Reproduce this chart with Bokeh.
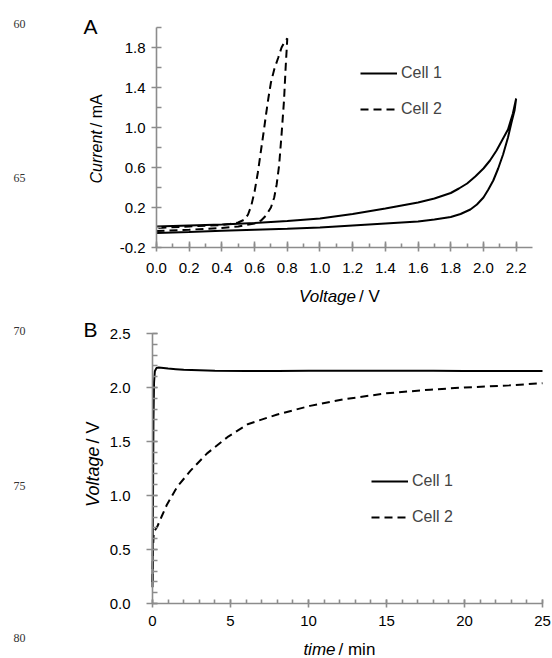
import math
from bokeh.plotting import figure
from bokeh.models import (Range1d, SingleIntervalTicker, FixedTicker, PrintfTickFormatter,
                          Label, Legend, LegendItem)
from bokeh.layouts import column
from bokeh.embed import file_html
from bokeh.resources import INLINE

# ---------------- data ----------------
# Panel A: cyclic voltammetry (Voltage / V, Current / mA)
cv1_voltage = [0.0, 0.2, 0.4, 0.6, 0.8, 1.0, 1.2, 1.4, 1.6, 1.7, 1.8, 1.85, 1.9, 1.95, 2.0, 2.04, 2.08, 2.12,
               2.15, 2.18, 2.2,
               2.19, 2.17, 2.15, 2.12, 2.09, 2.06, 2.03, 2.0, 1.96, 1.92, 1.86, 1.8, 1.7, 1.6, 1.4, 1.2, 1.0,
               0.8, 0.6, 0.4, 0.2, 0.0]
cv1_current = [0.01, 0.02, 0.03, 0.045, 0.065, 0.09, 0.135, 0.19, 0.25, 0.29, 0.345, 0.39, 0.44, 0.51, 0.59,
               0.67, 0.77, 0.89, 0.98, 1.14, 1.29,
               1.17, 1.04, 0.90, 0.73, 0.59, 0.47, 0.38, 0.30, 0.23, 0.18, 0.135, 0.105, 0.08, 0.06, 0.04,
               0.02, 0.0, -0.012, -0.022, -0.033, -0.045, -0.056]

cv2_voltage = [0.0, 0.2, 0.4, 0.5, 0.6, 0.64, 0.67, 0.7, 0.72, 0.735, 0.75, 0.765, 0.78, 0.79, 0.797, 0.8,
               0.785, 0.765, 0.745, 0.72, 0.7, 0.685, 0.67, 0.655, 0.64, 0.62, 0.6, 0.58, 0.56, 0.54, 0.5,
               0.45, 0.4, 0.2, 0.0]
cv2_current = [-0.035, -0.022, -0.005, 0.01, 0.04, 0.07, 0.12, 0.2, 0.3, 0.43, 0.62, 0.93, 1.27, 1.6, 1.8, 1.89,
               1.86, 1.8, 1.7, 1.58, 1.45, 1.3, 1.13, 0.95, 0.78, 0.55, 0.36, 0.22, 0.13, 0.08, 0.05,
               0.035, 0.025, 0.01, -0.005]

# Panel B: voltage vs time
t_cell1 = [0.0, 0.03, 0.06, 0.1, 0.15, 0.25, 0.4, 0.7, 1.0, 1.5, 2.0, 3.0, 4.0, 6.0, 8.0, 10, 12, 15, 18, 20, 22, 25]
v_cell1 = [0.15, 0.9, 1.7, 2.05, 2.15, 2.18, 2.185, 2.18, 2.175, 2.17, 2.165, 2.16, 2.155, 2.153, 2.153,
           2.154, 2.155, 2.155, 2.154, 2.153, 2.152, 2.152]
t_cell2 = [0.0, 0.03, 0.08, 0.3, 0.6, 0.94, 1.58, 2.44, 3.5, 4.8, 6.1, 7.35, 8.0, 10.1, 12.2, 15.0, 17.8, 20.0, 22.9, 25.0]
v_cell2 = [0.2, 0.5, 0.66, 0.71, 0.81, 0.92, 1.08, 1.23, 1.39, 1.54, 1.66, 1.72, 1.75, 1.83, 1.89, 1.946, 1.98, 2.0, 2.02, 2.04]

series_names = ["Cell 1", "Cell 2"]
a_y_major = [-0.2, 0.2, 0.6, 1.0, 1.4, 1.8]
a_y_minor = [0.0, 0.4, 0.8, 1.2, 1.6, 2.0]

# ---------------- layout geometry (page pixels) ----------------
W = 552
HA, HB = 308, 350
B_TOP = HA
A_L, A_R, A_T, A_B = 156, 532, 27, 247
B_L, B_R, B_T, B_B = 152, 542, 333, 603
A_X = (0.0, 2.3); A_Y = (-0.2, 2.0)
B_X = (0.0, 25.0); B_Y = (0.0, 2.5)

def ax_(px): return A_X[0] + (px - A_L) / (A_R - A_L) * (A_X[1] - A_X[0])
def ay_(py): return A_Y[0] + (A_B - py) / (A_B - A_T) * (A_Y[1] - A_Y[0])
def bx_(px): return B_X[0] + (px - B_L) / (B_R - B_L) * (B_X[1] - B_X[0])
def by_(py): return B_Y[0] + (B_B - py) / (B_B - B_T) * (B_Y[1] - B_Y[0])

SANS = "Liberation Sans"
SERIF = "Liberation Serif"
AXIS_GREY = "#8c8c8c"
ROT = math.pi / 2

def base_fig(h, xr, yr):
    p = figure(width=W, height=h, x_range=Range1d(*xr), y_range=Range1d(*yr),
               output_backend="svg", toolbar_location=None,
               min_border_left=0, min_border_right=0, min_border_top=0, min_border_bottom=0)
    p.outline_line_color = None
    p.xgrid.visible = False
    p.ygrid.visible = False
    for ax in (p.xaxis[0], p.yaxis[0]):
        ax.axis_line_color = AXIS_GREY
        ax.axis_line_width = 1.6
        ax.major_tick_line_color = AXIS_GREY
        ax.major_tick_line_width = 1.6
        ax.minor_tick_line_color = AXIS_GREY
        ax.minor_tick_line_width = 1.6
        ax.major_label_text_font = SANS
        ax.major_label_text_font_size = "15px"
        ax.major_label_text_color = "black"
    return p

def add_text(p, x, y, text, size, style="normal", align="left", angle=0.0, font=SANS, color="black"):
    p.add_layout(Label(x=x, y=y, text=text, text_font=font, text_font_size=size,
                       text_font_style=style, text_align=align, text_baseline="middle",
                       angle=angle, text_color=color))

# ---------------- Panel A ----------------
pa = base_fig(HA, (ax_(0), ax_(W)), (ay_(HA), ay_(0)))
pa.xaxis.fixed_location = A_Y[0]
pa.xaxis.bounds = A_X
pa.xaxis.ticker = SingleIntervalTicker(interval=0.2, num_minor_ticks=2)
pa.xaxis.formatter = PrintfTickFormatter(format="%.1f")
pa.xaxis.major_tick_in = 6; pa.xaxis.major_tick_out = 4
pa.xaxis.minor_tick_in = 4; pa.xaxis.minor_tick_out = 0
pa.xaxis.major_label_standoff = 11
pa.yaxis.fixed_location = A_X[0]
pa.yaxis.bounds = A_Y
pa.yaxis.ticker = FixedTicker(ticks=a_y_major, minor_ticks=a_y_minor)
pa.yaxis.formatter = PrintfTickFormatter(format="%.1f")
pa.yaxis.major_tick_in = 5; pa.yaxis.major_tick_out = 5
pa.yaxis.minor_tick_in = 5; pa.yaxis.minor_tick_out = 0
pa.yaxis.major_label_standoff = 6

ra1 = pa.line(cv1_voltage, cv1_current, line_color="black", line_width=2)
ra2 = pa.line(cv2_voltage, cv2_current, line_color="black", line_width=2, line_dash="8 5")
leg_a = Legend(items=[LegendItem(label=series_names[0], renderers=[ra1]),
                      LegendItem(label=series_names[1], renderers=[ra2])],
               location=(360, 189), border_line_color=None, background_fill_alpha=0,
               label_text_font=SANS, label_text_font_size="16px", glyph_width=37, glyph_height=20,
               label_height=20, spacing=16, padding=10, margin=0, label_standoff=4)
pa.add_layout(leg_a)

add_text(pa, ax_(83), ay_(26), "A", "21px")
add_text(pa, ax_(355.5), ay_(296), "Voltage", "17px", style="italic", align="right")
add_text(pa, ax_(358.5), ay_(296), "/ V", "17px", align="left")
add_text(pa, ax_(96), ay_(129.7), "Current", "16px", style="italic", align="right", angle=ROT)
add_text(pa, ax_(96), ay_(126.7), "/ mA", "16px", align="left", angle=ROT)
add_text(pa, ax_(13), ay_(23), "60", "12px", font=SERIF, color="#333333")
add_text(pa, ax_(13), ay_(177), "65", "12px", font=SERIF, color="#333333")

# ---------------- Panel B ----------------
pb = base_fig(HB, (bx_(0), bx_(W)), (by_(B_TOP + HB), by_(B_TOP)))
pb.xaxis.fixed_location = B_Y[0]
pb.xaxis.bounds = B_X
pb.xaxis.ticker = SingleIntervalTicker(interval=5, num_minor_ticks=5)
pb.xaxis.formatter = PrintfTickFormatter(format="%d")
pb.xaxis.major_tick_in = 4; pb.xaxis.major_tick_out = 4
pb.xaxis.minor_tick_in = 4; pb.xaxis.minor_tick_out = 0
pb.xaxis.major_label_standoff = 8
pb.yaxis.fixed_location = B_X[0]
pb.yaxis.bounds = B_Y
pb.yaxis.ticker = SingleIntervalTicker(interval=0.5, num_minor_ticks=5)
pb.yaxis.formatter = PrintfTickFormatter(format="%.1f")
pb.yaxis.major_tick_in = 5; pb.yaxis.major_tick_out = 6
pb.yaxis.minor_tick_in = 5; pb.yaxis.minor_tick_out = 0
pb.yaxis.major_label_standoff = 16

rb1 = pb.line(t_cell1, v_cell1, line_color="black", line_width=2)
rb2 = pb.line(t_cell2, v_cell2, line_color="black", line_width=2, line_dash="8 5")
leg_b = Legend(items=[LegendItem(label=series_names[0], renderers=[rb1]),
                      LegendItem(label=series_names[1], renderers=[rb2])],
               location=(371, 131), border_line_color=None, background_fill_alpha=0,
               label_text_font=SANS, label_text_font_size="16px", glyph_width=37, glyph_height=20,
               label_height=20, spacing=16, padding=10, margin=0, label_standoff=4)
pb.add_layout(leg_b)

add_text(pb, bx_(83), by_(329), "B", "21px")
add_text(pb, bx_(335), by_(649), "time", "17px", style="italic", align="right")
add_text(pb, bx_(338), by_(649), "/ min", "17px", align="left")
add_text(pb, bx_(92), by_(446), "Voltage", "18px", style="italic", align="right", angle=ROT)
add_text(pb, bx_(92), by_(443), "/ V", "18px", align="left", angle=ROT)
add_text(pb, bx_(13), by_(330.5), "70", "12px", font=SERIF, color="#333333")
add_text(pb, bx_(13), by_(485.5), "75", "12px", font=SERIF, color="#333333")
add_text(pb, bx_(13), by_(637), "80", "12px", font=SERIF, color="#333333")

layout = column(pa, pb, spacing=0)
open("out.html", "w").write(file_html(layout, INLINE, title="Cell voltage and current"))
